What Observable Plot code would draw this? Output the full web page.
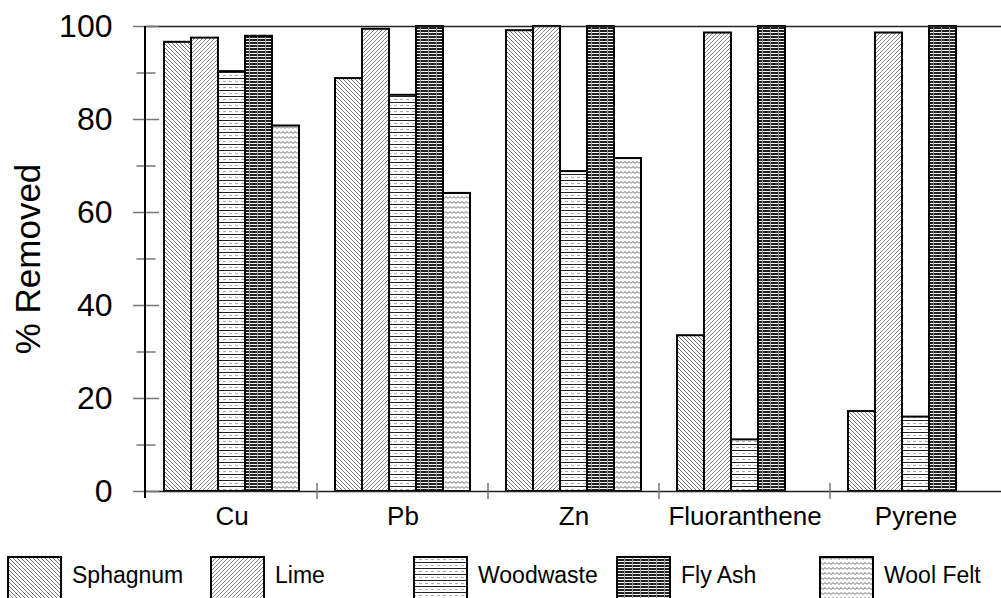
<!DOCTYPE html>
<html><head><meta charset="utf-8">
<script src="https://cdn.jsdelivr.net/npm/d3@7"></script>
<script src="https://cdn.jsdelivr.net/npm/@observablehq/plot@0.6"></script>
<style>
body{margin:0;background:#fff;font-family:"Liberation Sans",Arial,sans-serif;overflow:hidden;}
#legend{display:flex;padding-left:7px;margin-top:11px;}
.item{width:203px;display:flex;align-items:flex-start;flex:none;}
.item svg{flex:none;display:block;}
.item span{font-size:23px;line-height:23px;margin-left:10px;margin-top:8px;color:#000;white-space:nowrap;}
</style></head><body><div id="chart"></div><div id="legend"></div>
<script>
const categories = ["Cu", "Pb", "Zn", "Fluoranthene", "Pyrene"];
const materials = ["Sphagnum", "Lime", "Woodwaste", "Fly Ash", "Wool Felt"];
const sphagnum = [96.6, 88.8, 99.1, 33.5, 17.2];
const lime = [97.5, 99.4, 100, 98.6, 98.6];
const woodwaste = [90.3, 85.2, 68.8, 11.1, 16.0];
const flyAsh = [97.9, 100, 100, 100, 100];
const woolFelt = [78.6, 64.1, 71.6, 0, 0];
const majorTicks = [0, 20, 40, 60, 80, 100];
const minorTicks = [10, 30, 50, 70, 90];

const series = [sphagnum, lime, woodwaste, flyAsh, woolFelt];
const rows = [];
categories.forEach((c, i) => materials.forEach((m, j) => {
  const v = series[j][i];
  if (v > 0) rows.push({category: c, material: m, value: v});
}));
const patternIds = materials.map((m, i) => "pat" + i);

const plot = Plot.plot({
  width: 1001, height: 545,
  marginLeft: 145, marginRight: 0, marginTop: 26, marginBottom: 54,
  style: {fontFamily: '"Liberation Sans", Arial, sans-serif', color: "black", background: "white", overflow: "visible"},
  fx: {domain: categories, padding: 0, label: null},
  x: {domain: materials, paddingInner: 0, paddingOuter: 0.6, axis: null},
  y: {domain: [0, 100]},
  color: {domain: materials, range: patternIds.map(id => `url(#${id})`)},
  marks: [
    Plot.barY(rows, {fx: "category", x: "material", y: "value", fill: "material", stroke: "black", strokeWidth: 2}),
    Plot.ruleY([0, 100], {stroke: "#222", strokeWidth: 1.5}),
    Plot.axisY(majorTicks, {tickSize: 0, tickPadding: 34, fontSize: 32, label: null}),
    Plot.axisY(majorTicks, {tickSize: 26, dx: 13, text: null, fontSize: 35, label: "% Removed", labelArrow: false, labelAnchor: "center", labelOffset: 131, stroke: "#777", strokeWidth: 1.5}),
    Plot.axisY(minorTicks, {tickSize: 19, dx: 9.5, text: null, label: null, stroke: "#777", strokeWidth: 1.5}),
    Plot.axisFx({anchor: "bottom", tickSize: 0, tickPadding: 15, fontSize: 26, label: null})
  ]
});

const svg = d3.select(plot);
const defs = svg.insert("defs", ":first-child");
function pat(id, w, h) {
  const p = defs.append("pattern").attr("id", id).attr("width", w).attr("height", h).attr("patternUnits", "userSpaceOnUse");
  p.append("rect").attr("width", w).attr("height", h).attr("fill", "white");
  return p;
}
// Sphagnum: back-slash hatch
pat("pat0", 4, 4).append("path").attr("d", "M-1,-1L5,5M-1,3L1,5M3,-1L5,1").attr("stroke", "#777").attr("stroke-width", 1);
// Lime: forward-slash hatch
pat("pat1", 4, 4).append("path").attr("d", "M-1,5L5,-1M-1,1L1,-1M3,5L5,3").attr("stroke", "#888").attr("stroke-width", 1);
// Woodwaste: horizontal lines with dotted midlines
{
  const p = pat("pat2", 6, 6);
  p.append("path").attr("d", "M0,0.5H6").attr("stroke", "#222").attr("stroke-width", 1);
  p.append("path").attr("d", "M0,3.5H3").attr("stroke", "#aaa").attr("stroke-width", 1);
}
// Fly Ash: dense dark horizontal lines with vertical grid
{
  const p = pat("pat3", 8, 3);
  p.append("rect").attr("width", 8).attr("height", 2).attr("fill", "#222");
  p.append("path").attr("d", "M0.5,0V3").attr("stroke", "#999").attr("stroke-width", 1);
}
// Wool Felt: zigzag
pat("pat4", 8, 5).append("path").attr("d", "M0,3.5L2,1.5L4,3.5L6,1.5L8,3.5").attr("stroke", "#666").attr("stroke-width", 1).attr("fill", "none");

const fx = plot.scale("fx"), y = plot.scale("y");
const y0 = y.apply(0), y100 = y.apply(100);
const g = svg.append("g");
g.append("line").attr("x1", fx.range[0]).attr("x2", fx.range[0]).attr("y1", y100).attr("y2", y0 + 7)
  .attr("stroke", "black").attr("stroke-width", 2);
categories.slice(1).forEach(c => {
  const x = fx.apply(c);
  g.append("line").attr("x1", x).attr("x2", x).attr("y1", y0 - 8).attr("y2", y0 + 8)
    .attr("stroke", "#777").attr("stroke-width", 1.5);
});

document.getElementById("chart").appendChild(plot);

const legend = d3.select("#legend");
materials.forEach((m, i) => {
  const item = legend.append("div").attr("class", "item");
  const s = item.append("svg").attr("width", 55).attr("height", 55);
  s.append("rect").attr("x", 1).attr("y", 1).attr("width", 53).attr("height", 53)
    .attr("fill", `url(#${patternIds[i]})`).attr("stroke", "black").attr("stroke-width", 2);
  item.append("span").text(m);
});
</script></body></html>
